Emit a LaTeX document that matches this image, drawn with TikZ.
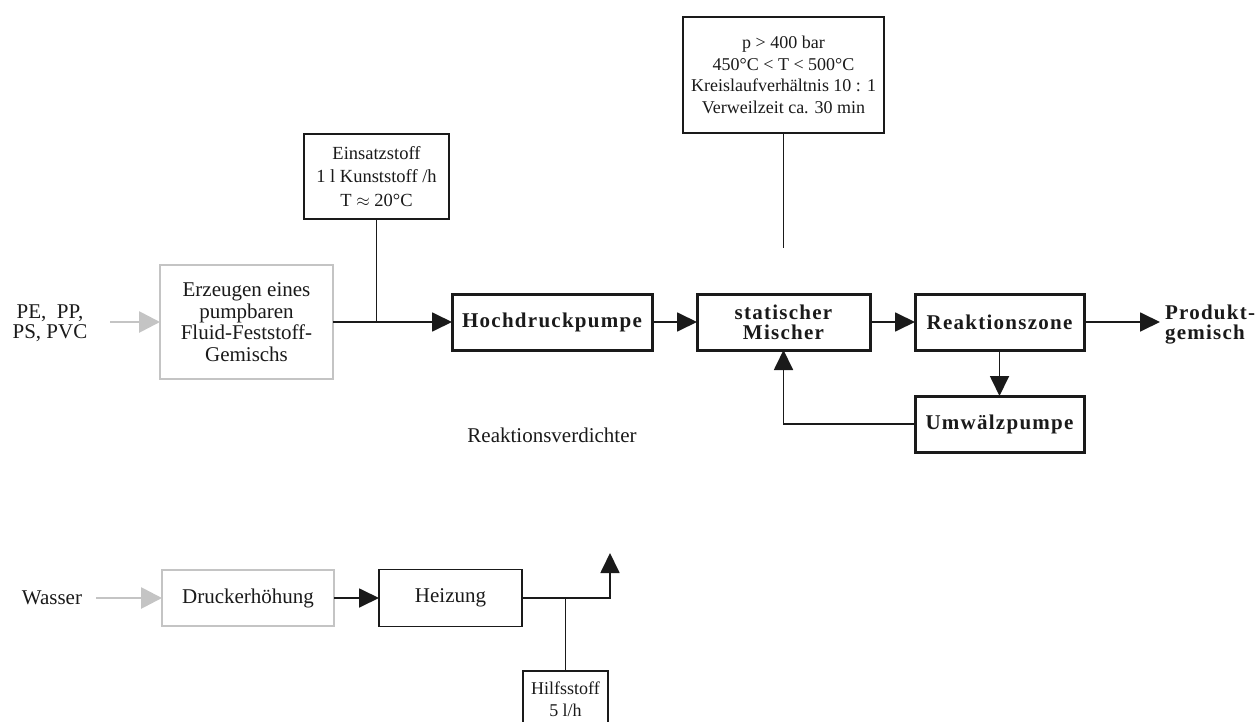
\documentclass[tikz,border=0pt]{standalone}
\usepackage{fontspec}
\setmainfont{Liberation Serif}
\newfontfamily\boldlbl[LetterSpace=6]{Liberation Serif}
\usetikzlibrary{arrows.meta}
\definecolor{ink}{HTML}{1A1A1A}
\definecolor{lightgray}{HTML}{C4C4C4}
\tikzset{
  every node/.style={text=ink, inner sep=0pt, outer sep=0pt},
  txt/.style={font=\fontsize{21}{21.7}\selectfont, align=center},
  smalltxt/.style={font=\fontsize{18}{21.7}\selectfont, align=center},
  boldtxt/.style={font=\boldlbl\bfseries\fontsize{21}{20}\selectfont, align=center},
  graybox/.style={draw=lightgray, line width=2.8pt, minimum width=173pt, txt},
  thickbox/.style={draw=ink, line width=3pt, minimum height=56pt, boldtxt},
  thinbox/.style={draw=ink, line width=1.8pt, txt},
  flow/.style={draw=ink, line width=1.8pt, -{Triangle[length=20pt,width=19pt]}},
  grayflow/.style={draw=lightgray, line width=2.8pt, -{Triangle[length=21pt,width=21pt]}},
  line/.style={draw=ink, line width=1.8pt},
}
\begin{document}
\begin{tikzpicture}[x=1pt, y=-1pt]
\clip (0,0) rectangle (1258,722);
\fill[white] (0,0) rectangle (1258,722);

% --- main line: plastics preparation and reactor loop ---
\node[txt, font=\fontsize{21}{20}\selectfont] (plast) at (50,323) {PE,\ \ PP,\\PS, PVC};
\node[graybox, minimum height=114pt] (prep) at (246.5,322)
  {Erzeugen eines\\pumpbaren\\Fluid-Feststoff-\\Gemischs};
\node[thinbox, smalltxt, font=\fontsize{18.5}{23.5}\selectfont, minimum width=145pt, minimum height=85pt] (feed) at (376.5,176.5)
  {Einsatzstoff\\1 l Kunststoff /h\\T $\approx$ 20\textdegree C};
\node[thickbox, minimum width=200pt] (hdp) at (552,322) {Hochdruckpumpe};
\node[thickbox, minimum width=173pt] (mix) at (783.5,322) {statischer\\Mischer};
\node[thickbox, minimum width=169pt] (rz) at (999.5,322) {Reaktionszone};
\node[thickbox, minimum width=169pt] (uwp) at (999.5,424) {Umwälzpumpe};
\node[thinbox, smalltxt, minimum width=201pt, minimum height=116pt] (cond) at (783.5,75)
  {p > 400 bar\\450\textdegree C < T < 500\textdegree C\\Kreislaufverhältnis 10 : 1\\Verweilzeit ca. 30 min};
\node[boldtxt, align=left, anchor=west] (prod) at (1165,325) {Produkt-\\gemisch};
\node[txt] (rv) at (552,435) {Reaktionsverdichter};

\coordinate (feedjoin) at (feed.south |- prep.east);
\coordinate (condend) at (783.5,248);
\coordinate (loopcorner) at (mix.south |- uwp.west);
\coordinate (prodtip) at (1160,322);

\draw[grayflow] (110,322) -- (prep.west);
\draw[flow] (prep.east) -- (hdp.west);
\draw[line] (feed.south) -- (feedjoin);
\draw[flow] (hdp.east) -- (mix.west);
\draw[flow] (mix.east) -- (rz.west);
\draw[flow] (rz.east) -- (prodtip);
\draw[flow] (rz.south) -- (uwp.north);
\draw[flow] (uwp.west) -- (loopcorner) -- (mix.south);
\draw[line] (cond.south) -- (condend);

% --- water line ---
\node[txt] (water) at (52,598) {Wasser};
\node[graybox, minimum width=172pt, minimum height=56pt] (press) at (248,598) {Druckerhöhung};
\node[thinbox, minimum width=143pt, minimum height=57pt] (heat) at (450.5,598) {Heizung};
\node[thinbox, font=\fontsize{18}{22}\selectfont, align=center, minimum width=85pt, minimum height=56pt] (aux) at (565.5,699)
  {Hilfsstoff\\5 l/h};

\coordinate (auxjoin) at (aux.north |- heat.east);
\coordinate (risebase) at (610,598);
\coordinate (risetip) at (610,553);

\draw[grayflow] (96,598) -- (press.west);
\draw[flow] (press.east) -- (heat.west);
\draw[flow] (heat.east) -- (risebase) -- (risetip);
\draw[line] (aux.north) -- (auxjoin);
\end{tikzpicture}
\end{document}
